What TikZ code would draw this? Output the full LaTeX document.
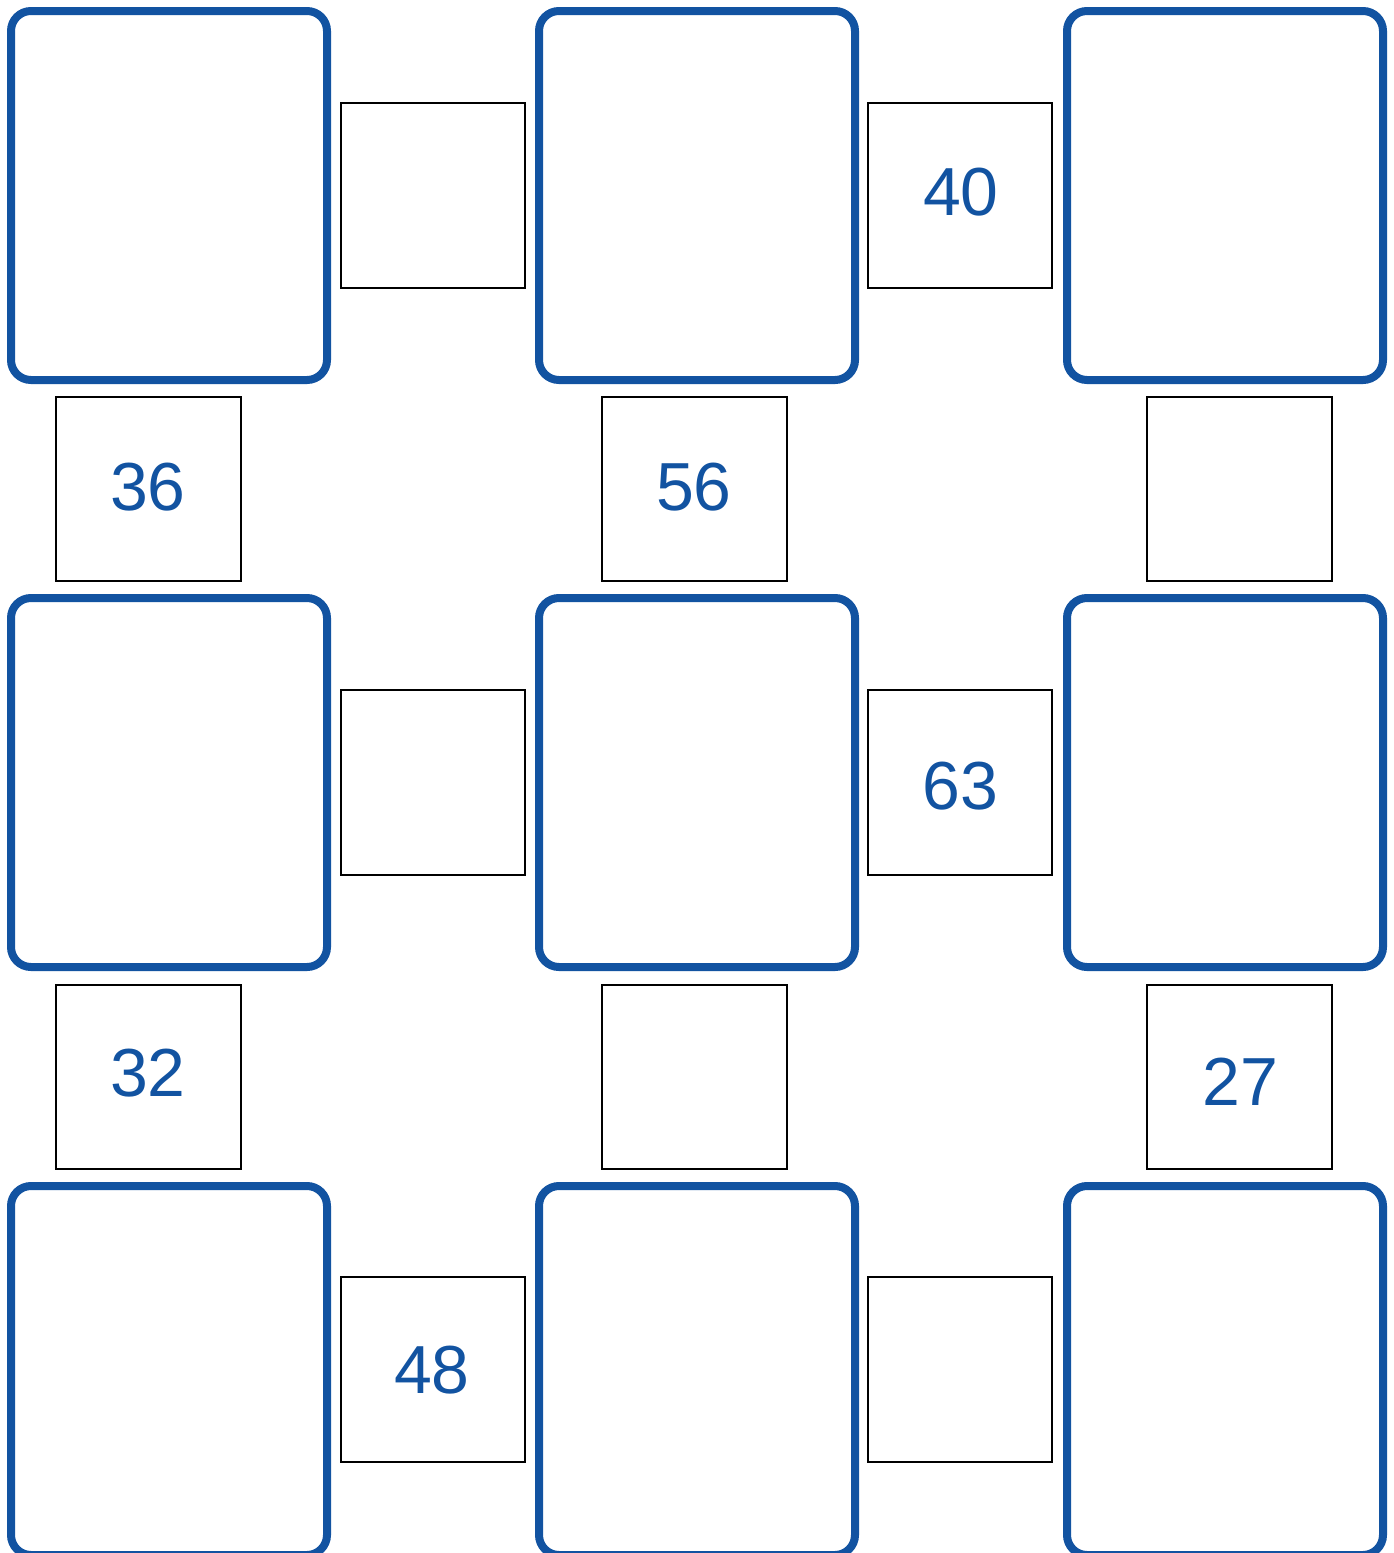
\documentclass[tikz,border=0pt]{standalone}
\usepackage{fontspec}
\setmainfont{Liberation Sans}
\definecolor{bl}{HTML}{1253A1}
\tikzset{
  big/.style={draw=bl,line width=8pt,rounded corners=20pt},
  small/.style={draw=black,line width=2pt},
  num/.style={text=bl,font=\fontsize{68}{68}\selectfont,inner sep=0pt,anchor=center}
}
\begin{document}
\begin{tikzpicture}[x=1pt,y=-1pt]
\useasboundingbox (0,0) rectangle (1394,1553);
\clip (0,0) rectangle (1394,1553);
% big boxes
\foreach \cx/\nm in {11/a,539/b,1067/c}{
  \foreach \cy/\r in {11/1,598/2,1186/3}{
    \draw[big] (\cx,\cy) rectangle ++(316,369);
  }
}
% horizontal small boxes
\foreach \x/\y/\nm in {341/103/h11,868/103/h12,341/690/h21,868/690/h22,341/1277/h31,868/1277/h32}{
  \draw[small] (\x,\y) rectangle ++(184,185) coordinate (\nm);
}
% vertical small boxes
\foreach \x/\y/\nm in {56/397/v11,602/397/v12,1147/397/v13,56/985/v21,602/985/v22,1147/985/v23}{
  \draw[small] (\x,\y) rectangle ++(185,184) coordinate (\nm);
}
\node[num] (n40) at (961,192) {40};
\node[num] (n36) at (148,487) {36};
\node[num] (n56) at (694,487) {56};
\node[num] (n63) at (960,786) {63};
\node[num] (n32) at (148,1073) {32};
\node[num] (n27) at (1240,1082) {27};
\node[num] (n48) at (432,1370) {48};
\end{tikzpicture}
\end{document}
